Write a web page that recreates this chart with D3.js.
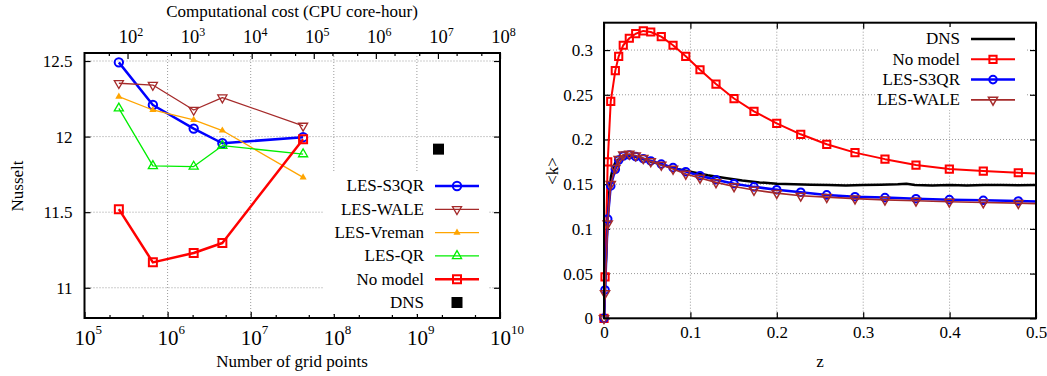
<!DOCTYPE html>
<html>
<head>
<meta charset="utf-8">
<script src="https://cdn.jsdelivr.net/npm/d3@7"></script>
<style>
body { margin: 0; background: #fff; }
svg { display: block; font-family: "Liberation Serif", "Times New Roman", serif; }
</style>
</head>
<body>
<svg id="chart" width="1047" height="376"></svg>
<script>
// ---- left panel: Nusselt vs grid size ----
const gridPoints = [2.59e5, 6.65e5, 2.06e6, 4.56e6, 4.27e7];
const nuS3QR    = [12.491, 12.209, 12.053, 11.956, 11.996];
const nuWALE    = [12.353, 12.341, 12.176, 12.258, 12.071];
const nuVreman  = [12.264, 12.176, 12.110, 12.040, 11.730];
const nuQR      = [12.187, 11.806, 11.802, 11.940, 11.884];
const nuNoModel = [11.520, 11.168, 11.230, 11.296, 11.983];
const dnsGrid = [1.82e9];
const dnsNu   = [11.917];

const nuTicks = [11, 11.5, 12, 12.5];
const gridTicks = [1e5, 1e6, 1e7, 1e8, 1e9, 1e10];
const costTicks = [1e2, 1e3, 1e4, 1e5, 1e6, 1e7, 1e8];

// ---- right panel: <k> profiles ----
const zLES = [0, 0.0012, 0.0043, 0.0078, 0.0131, 0.0170, 0.0223, 0.0293, 0.0367, 0.0455, 0.0541, 0.0663, 0.0799, 0.0946,
  0.1111, 0.1296, 0.1505, 0.1736, 0.1999, 0.2277, 0.2578, 0.2905, 0.3252, 0.3611, 0.3997, 0.4390, 0.4795, 0.5];
const kNoModel = [0, 0.0464, 0.175, 0.2427, 0.277, 0.293, 0.3054, 0.3132, 0.3183, 0.3214, 0.3202, 0.315, 0.3054, 0.293,
  0.278, 0.262, 0.2458, 0.2315, 0.2181, 0.2058, 0.1946, 0.1853, 0.178, 0.1714, 0.1669, 0.1647, 0.1628, 0.162];
const kS3QR = [0, 0.0317, 0.111, 0.148, 0.1667, 0.177, 0.1815, 0.1827, 0.1808, 0.1785, 0.176, 0.1725, 0.1685, 0.164,
  0.1595, 0.155, 0.1505, 0.147, 0.1438, 0.141, 0.138, 0.136, 0.135, 0.1338, 0.1327, 0.132, 0.1312, 0.1306];
const kWALE = [0, 0.028, 0.106, 0.150, 0.168, 0.178, 0.183, 0.1838, 0.182, 0.179, 0.1755, 0.1715, 0.167, 0.1615,
  0.157, 0.152, 0.1475, 0.1435, 0.140, 0.137, 0.1355, 0.1338, 0.1325, 0.1314, 0.1303, 0.1295, 0.1288, 0.1282];
const zDNS = [0, 0.001, 0.002, 0.004, 0.006, 0.008, 0.01, 0.013, 0.017, 0.022, 0.028, 0.035, 0.045, 0.055, 0.07, 0.085,
  0.1, 0.12, 0.14, 0.16, 0.18, 0.2, 0.22, 0.24, 0.26, 0.28, 0.3, 0.32, 0.34, 0.35, 0.36, 0.38, 0.4, 0.42, 0.44, 0.46, 0.48, 0.5];
const kDNS = [0, 0.03, 0.06, 0.11, 0.14, 0.158, 0.167, 0.174, 0.178, 0.181, 0.182, 0.181, 0.178, 0.175, 0.171, 0.167,
  0.164, 0.160, 0.157, 0.154, 0.152, 0.1505, 0.150, 0.1495, 0.149, 0.1485, 0.149, 0.1493, 0.1498, 0.1505, 0.149, 0.1485,
  0.149, 0.1485, 0.149, 0.149, 0.1488, 0.149];

const kTicks = [0, 0.05, 0.1, 0.15, 0.2, 0.25, 0.3];
const zTicks = [0, 0.1, 0.2, 0.3, 0.4, 0.5];

const svg = d3.select("#chart");
const FS = 17;

// draw one marker symbol
function marker(g, type, x, y, color, size, sw) {
    const filled = type === "triFill" || type === "squareFill";
    const shape = (type === "circle") ? d3.symbolCircle
        : (type === "tri" || type === "triDown" || type === "triFill") ? d3.symbolTriangle : d3.symbolSquare;
    g.append("path")
        .attr("d", d3.symbol().type(shape).size(size)())
        .attr("transform", `translate(${x},${y})` + (type === "triDown" ? " rotate(180)" : ""))
        .attr("stroke", filled ? "none" : color)
        .attr("stroke-width", sw)
        .attr("fill", filled ? color : "none");
}

// dotted grid lines
function grid(g, xs, ys, xVals, yVals, box) {
    const gg = g.append("g").attr("stroke", "#9a9a9a").attr("stroke-width", 1).attr("stroke-dasharray", "1,2");
    xVals.forEach(v => gg.append("line").attr("x1", xs(v)).attr("x2", xs(v)).attr("y1", box.y0).attr("y2", box.y1));
    yVals.forEach(v => gg.append("line").attr("x1", box.x0).attr("x2", box.x1).attr("y1", ys(v)).attr("y2", ys(v)));
}

// 10^n labels, base "10" centred on the tick
function powLabels(sel, yBase, baseSize, expSize, rise) {
    sel.selectAll(".tick text").each(function (d) {
        const t = d3.select(this);
        const e = Math.round(Math.log10(d));
        t.text(null).attr("text-anchor", "start").attr("x", -baseSize / 2).attr("y", yBase).attr("dy", null)
            .attr("font-size", baseSize);
        t.append("tspan").text("10");
        t.append("tspan").attr("dy", -rise).attr("font-size", expSize).text(e);
    });
}

function styleAxis(g) {
    g.select(".domain").remove();
    g.selectAll(".tick line").attr("stroke", "#000").attr("stroke-width", 1.2);
    g.selectAll(".tick text").attr("font-size", FS).attr("font-family", "Liberation Serif").attr("fill", "#000");
}

// ================= LEFT PANEL =================
const L = { x0: 84.5, x1: 500, y0: 53, y1: 318 };
const xN = d3.scaleLog().domain([1e5, 1e10]).range([L.x0, L.x1]);
const xCost = d3.scaleLog().domain([Math.pow(10, 1.307), 1e8]).range([L.x0, L.x1]);
const yNu = d3.scaleLinear().domain([10.8, 12.553]).range([L.y1, L.y0]);

const left = svg.append("g");
grid(left, xN, yNu, gridTicks.slice(1, -1), nuTicks, L);

// minor ticks (2 and 5 per decade)
const minorN = [];
for (let e = 5; e < 10; e++) minorN.push(2 * 10 ** e, 5 * 10 ** e);
const minorCost = [];
for (let e = 1; e < 8; e++) minorCost.push(2 * 10 ** e, 5 * 10 ** e);

left.append("g").attr("transform", `translate(0,${L.y1})`)
    .call(d3.axisBottom(xN).tickValues(minorN).tickSize(-3).tickFormat(""))
    .call(styleAxis);
left.append("g").attr("transform", `translate(0,${L.y1})`)
    .call(d3.axisBottom(xN).tickValues(gridTicks).tickSizeInner(-6).tickSizeOuter(0))
    .call(styleAxis).call(g => powLabels(g, 26.5, 21, 13, 10.5));
left.append("g").attr("transform", `translate(0,${L.y0})`)
    .call(d3.axisTop(xCost).tickValues(minorCost.filter(v => xCost(v) > L.x0)).tickSize(-3).tickFormat(""))
    .call(styleAxis);
left.append("g").attr("transform", `translate(0,${L.y0})`)
    .call(d3.axisTop(xCost).tickValues(costTicks).tickSizeInner(-6).tickSizeOuter(0))
    .call(styleAxis).call(g => powLabels(g, -9.7, 18.5, 12, 7));
left.append("g").attr("transform", `translate(${L.x0},0)`)
    .call(d3.axisLeft(yNu).tickValues(nuTicks).tickSizeInner(-6).tickSizeOuter(0).tickPadding(12).tickFormat(d => d))
    .call(styleAxis);
left.append("g").attr("transform", `translate(${L.x1},0)`)
    .call(d3.axisRight(yNu).tickValues(nuTicks).tickSizeInner(-6).tickSizeOuter(0).tickFormat(""))
    .call(styleAxis);

// legend background (opaque key)
left.append("rect").attr("x", 323).attr("y", 173).attr("width", 166).attr("height", 141).attr("fill", "#fff");

const leftSeries = [
    { name: "LES-S3QR", vals: nuS3QR, color: "#0000ff", lw: 2.5, type: "circle", size: 55, sw: 2 },
    { name: "LES-WALE", vals: nuWALE, color: "#a52a2a", lw: 1.3, type: "triDown", size: 36, sw: 1.3 },
    { name: "LES-Vreman", vals: nuVreman, color: "#ffa500", lw: 1.3, type: "triFill", size: 22, sw: 1 },
    { name: "LES-QR", vals: nuQR, color: "#00ee00", lw: 1.3, type: "tri", size: 36, sw: 1.3 },
    { name: "No model", vals: nuNoModel, color: "#ff0000", lw: 2.5, type: "square", size: 64, sw: 2 }
];

const lineN = d3.line().x(d => xN(d[0])).y(d => yNu(d[1]));
leftSeries.forEach(s => {
    const pts = gridPoints.map((n, i) => [n, s.vals[i]]);
    left.append("path").attr("d", lineN(pts)).attr("fill", "none")
        .attr("stroke", s.color).attr("stroke-width", s.lw).attr("stroke-linejoin", "round");
    pts.forEach(p => marker(left, s.type, xN(p[0]), yNu(p[1]), s.color, s.size, s.sw));
});
dnsGrid.forEach((n, i) => marker(left, "squareFill", xN(n), yNu(dnsNu[i]), "#000", 121, 0));

// left legend
const legL = left.append("g").attr("font-size", FS);
leftSeries.concat([{ name: "DNS", color: "#000", type: "squareFill", size: 121 }]).forEach((s, i) => {
    const y = 186 + i * 23.3;
    legL.append("text").attr("x", 424).attr("y", y).attr("dy", "0.32em").attr("text-anchor", "end").text(s.name);
    if (s.name !== "DNS") {
        legL.append("line").attr("x1", 435).attr("x2", 479).attr("y1", y).attr("y2", y)
            .attr("stroke", s.color).attr("stroke-width", s.lw);
    }
    marker(legL, s.type, 457, y, s.color, s.size, s.sw);
});

left.append("rect").attr("x", L.x0).attr("y", L.y0).attr("width", L.x1 - L.x0).attr("height", L.y1 - L.y0)
    .attr("fill", "none").attr("stroke", "#000").attr("stroke-width", 2);

left.append("text").attr("x", 292).attr("y", 16.5).attr("text-anchor", "middle").attr("font-size", FS)
    .text("Computational cost (CPU core-hour)");
left.append("text").attr("x", 292).attr("y", 366.5).attr("text-anchor", "middle").attr("font-size", FS)
    .text("Number of grid points");
left.append("text").attr("transform", "translate(23,186) rotate(-90)").attr("text-anchor", "middle")
    .attr("font-size", FS).text("Nusselt");

// ================= RIGHT PANEL =================
const R = { x0: 604, x1: 1036, y0: 22.7, y1: 318.3 };
const xZ = d3.scaleLinear().domain([0, 0.5]).range([R.x0, R.x1]);
const yK = d3.scaleLinear().domain([0, 0.3306]).range([R.y1, R.y0]);

const right = svg.append("g");
grid(right, xZ, yK, zTicks.slice(1, -1), kTicks.slice(1), R);

right.append("g").attr("transform", `translate(0,${R.y1})`)
    .call(d3.axisBottom(xZ).tickValues(zTicks).tickSizeInner(-6).tickSizeOuter(0).tickPadding(8).tickFormat(d => d))
    .call(styleAxis);
right.append("g").attr("transform", `translate(0,${R.y0})`)
    .call(d3.axisTop(xZ).tickValues(zTicks).tickSizeInner(-6).tickSizeOuter(0).tickFormat(""))
    .call(styleAxis);
right.append("g").attr("transform", `translate(${R.x0},0)`)
    .call(d3.axisLeft(yK).tickValues(kTicks).tickSizeInner(-6).tickSizeOuter(0).tickPadding(11).tickFormat(d => d))
    .call(styleAxis);
right.append("g").attr("transform", `translate(${R.x1},0)`)
    .call(d3.axisRight(yK).tickValues(kTicks).tickSizeInner(-6).tickSizeOuter(0).tickFormat(""))
    .call(styleAxis);

right.append("rect").attr("x", 880).attr("y", 27).attr("width", 145).attr("height", 83).attr("fill", "#fff");

const lineK = d3.line().x(d => xZ(d[0])).y(d => yK(d[1]));
const rightSeries = [
    { name: "DNS", z: zDNS, vals: kDNS, color: "#000", lw: 2.5, type: null },
    { name: "No model", z: zLES, vals: kNoModel, color: "#ff0000", lw: 2, type: "square", size: 52, sw: 2 },
    { name: "LES-S3QR", z: zLES, vals: kS3QR, color: "#0000ff", lw: 2.5, type: "circle", size: 45, sw: 2 },
    { name: "LES-WALE", z: zLES, vals: kWALE, color: "#a52a2a", lw: 1.6, type: "triDown", size: 36, sw: 1.5 }
];
rightSeries.forEach(s => {
    const pts = s.z.map((z, i) => [z, s.vals[i]]);
    right.append("path").attr("d", lineK(pts)).attr("fill", "none")
        .attr("stroke", s.color).attr("stroke-width", s.lw).attr("stroke-linejoin", "round");
    if (s.type) pts.filter(p => p[0] < 0.5)
        .forEach(p => marker(right, s.type, xZ(p[0]), yK(p[1]), s.color, s.size, s.sw));
});

const legR = right.append("g").attr("font-size", FS);
rightSeries.forEach((s, i) => {
    const y = 39 + i * 20.3;
    legR.append("text").attr("x", 960).attr("y", y).attr("dy", "0.32em").attr("text-anchor", "end").text(s.name);
    legR.append("line").attr("x1", 971).attr("x2", 1015).attr("y1", y).attr("y2", y)
        .attr("stroke", s.color).attr("stroke-width", s.lw);
    if (s.type) marker(legR, s.type, 993, y, s.color, s.size, s.sw);
});

right.append("rect").attr("x", R.x0).attr("y", R.y0).attr("width", R.x1 - R.x0).attr("height", R.y1 - R.y0)
    .attr("fill", "none").attr("stroke", "#000").attr("stroke-width", 2);

right.append("text").attr("x", 820).attr("y", 366.5).attr("text-anchor", "middle").attr("font-size", FS).text("z");
right.append("text").attr("transform", "translate(558,171) rotate(-90)").attr("text-anchor", "middle")
    .attr("font-size", FS).text("<k>");
</script>
</body>
</html>
